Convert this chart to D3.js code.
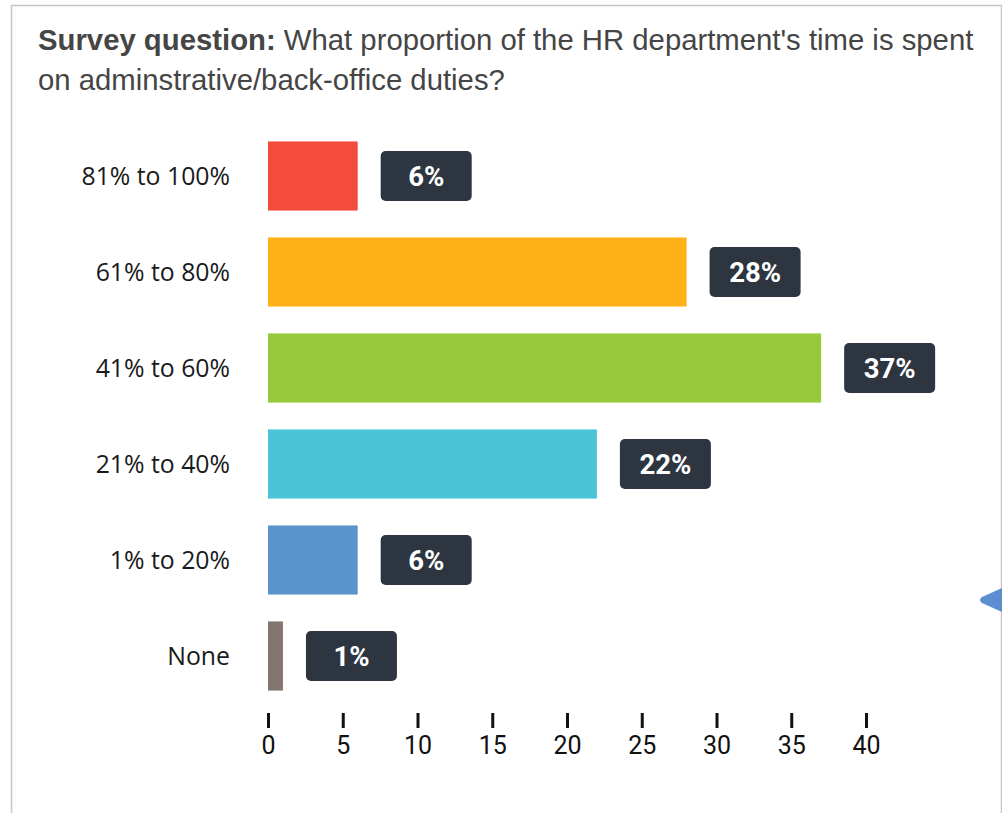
<!DOCTYPE html>
<html>
<head>
<meta charset="utf-8">
<script src="https://cdn.jsdelivr.net/npm/d3@7/dist/d3.min.js"></script>
<style>
  html, body { margin: 0; padding: 0; background: #fff; }
  svg { display: block; }
</style>
</head>
<body>
<svg id="chart" width="1002" height="813"></svg>
<script>
// Survey answers, top to bottom
const categories = ["81% to 100%", "61% to 80%", "41% to 60%", "21% to 40%", "1% to 20%", "None"];
const values = [6, 28, 37, 22, 6, 1];
const colors = ["#f44b3c", "#feb217", "#97c93d", "#4cc4d8", "#5b94cc", "#857571"];
const tickValues = [0, 5, 10, 15, 20, 25, 30, 35, 40];

const svg = d3.select("#chart");

// card border
svg.append("path")
  .attr("d", "M11.5,813 V5.5 H1001.5 V813")
  .attr("fill", "none")
  .attr("stroke", "#cbc4c0")
  .attr("stroke-width", 1.5);

// title
const titleFont = "Liberation Sans, Arial, sans-serif";
const title = svg.append("text")
  .attr("x", 38).attr("y", 50)
  .attr("font-family", titleFont)
  .attr("font-size", 29.3)
  .attr("fill", "#454545");
title.append("tspan").attr("font-weight", "bold").text("Survey question:");
title.append("tspan").text(" What proportion of the HR department's time is spent");
svg.append("text")
  .attr("x", 38).attr("y", 90)
  .attr("font-family", titleFont)
  .attr("font-size", 29.3)
  .attr("fill", "#454545")
  .text("on adminstrative/back-office duties?");

const x = d3.scaleLinear().domain([0, 40]).range([268, 866]);
const y = d3.scaleBand().domain(categories).range([128, 704]).paddingInner(0.28).paddingOuter(0.14);

// category labels
svg.append("g").selectAll("text")
  .data(categories)
  .join("text")
  .attr("x", 230)
  .attr("y", d => y(d) + y.bandwidth() / 2)
  .attr("dy", "0.35em")
  .attr("text-anchor", "end")
  .attr("font-family", "Open Sans, sans-serif")
  .attr("font-size", 24.8)
  .attr("fill", "#1a1a1a")
  .text(d => d);

// bars
svg.append("g").selectAll("rect")
  .data(values)
  .join("rect")
  .attr("x", x(0))
  .attr("y", (d, i) => y(categories[i]))
  .attr("width", d => x(d) - x(0))
  .attr("height", y.bandwidth())
  .attr("fill", (d, i) => colors[i]);

// value badges
const badgeW = 91, badgeH = 50, gap = 23;
const badges = svg.append("g").selectAll("g")
  .data(values)
  .join("g")
  .attr("transform", (d, i) => `translate(${x(d) + gap},${y(categories[i]) + y.bandwidth() / 2 - badgeH / 2})`);
badges.append("rect")
  .attr("width", badgeW).attr("height", badgeH)
  .attr("rx", 5).attr("ry", 5)
  .attr("fill", "#2d3541");
badges.append("text")
  .attr("x", badgeW / 2).attr("y", badgeH / 2)
  .attr("dy", "0.36em")
  .attr("text-anchor", "middle")
  .attr("font-family", "Roboto, sans-serif")
  .attr("font-weight", "bold")
  .attr("font-size", 27.5)
  .attr("fill", "#fff")
  .text(d => d + "%");

// x axis
const axis = d3.axisBottom(x).tickValues(tickValues).tickSize(15).tickPadding(8);
const gx = svg.append("g").attr("transform", "translate(0,713)").call(axis);
gx.select(".domain").remove();
gx.selectAll(".tick line").attr("stroke", "#111").attr("stroke-width", 3);
gx.selectAll(".tick text")
  .attr("font-family", "Roboto, sans-serif")
  .attr("font-size", 25)
  .attr("fill", "#111");

// side tab arrow
svg.append("path")
  .attr("d", "M1002,588 L982,597 Q978,600 982,603 L1002,612 Z")
  .attr("fill", "#5b8fcf");
</script>
</body>
</html>
